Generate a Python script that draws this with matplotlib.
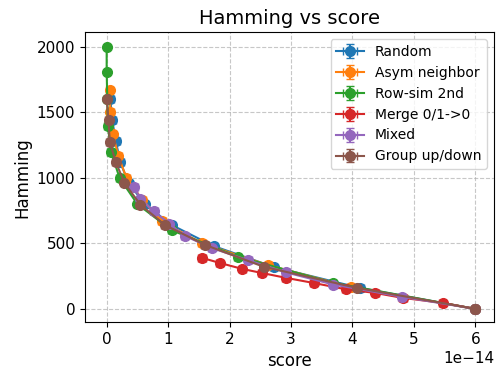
import matplotlib.pyplot as plt
import numpy as np

# Hamming distance vs score for the different perturbation schemes
labels = ['Random', 'Asym neighbor', 'Row-sim 2nd', 'Merge 0/1->0', 'Mixed', 'Group up/down']

# score values in units of 1e-14
random_x = [0.06, 0.09, 0.15, 0.22, 0.36, 0.62, 1.06, 1.74, 2.72, 4.12, 6.0]
random_y = [1600, 1440, 1280, 1120, 960, 800, 640, 480, 320, 160, 0]

asym_x = [0.05, 0.06, 0.10, 0.19, 0.32, 0.58, 0.90, 1.55, 2.63, 3.97, 6.0]
asym_y = [1670, 1503, 1336, 1169, 1002, 835, 668, 501, 334, 167, 0]

rowsim_x = [0.0, 0.0, 0.01, 0.02, 0.07, 0.21, 0.50, 1.06, 2.13, 3.68, 6.0]
rowsim_y = [2000, 1810, 1600, 1400, 1200, 1000, 800, 600, 400, 200, 0]

merge_x = [1.55, 1.84, 2.21, 2.52, 2.92, 3.37, 3.89, 4.37, 4.82, 5.47, 6.0]
merge_y = [390, 351, 305, 275, 237, 198, 150, 122, 84, 46, 0]

mixed_x = [0.45, 0.55, 0.77, 1.02, 1.27, 1.71, 2.30, 2.92, 3.69, 4.80, 6.0]
mixed_y = [930, 840, 744, 651, 558, 465, 372, 279, 186, 93, 0]

group_x = [0.0, 0.03, 0.05, 0.15, 0.29, 0.55, 0.95, 1.60, 2.56, 4.08, 6.0]
group_y = [1600, 1440, 1275, 1120, 960, 795, 640, 489, 321, 160, 0]

# typical spread of the repeated runs (none at the exact end points)
score_err = 0.06
hamming_err = 12

series = [(random_x, random_y), (asym_x, asym_y), (rowsim_x, rowsim_y),
          (merge_x, merge_y), (mixed_x, mixed_y), (group_x, group_y)]

plt.figure(figsize=(5.03, 3.83), dpi=100)
for (xs, ys), lab in zip(series, labels):
    xs = np.array(xs)
    ys = np.array(ys)
    ends = (xs == 0) | (xs == 6.0)
    xe = np.where(ends, 0, score_err) * 1e-14
    ye = np.where(ys == 0, 0, hamming_err)
    plt.errorbar(xs * 1e-14, ys, xerr=xe, yerr=ye, fmt='o-', markersize=7,
                 capsize=3, label=lab)

plt.title('Hamming vs score', fontsize=14)
plt.xlabel('score', fontsize=12)
plt.ylabel('Hamming', fontsize=12)
plt.xticks(fontsize=11)
plt.yticks([0, 500, 1000, 1500, 2000], fontsize=11)
ax = plt.gca()
ax.xaxis.get_offset_text().set_fontsize(11)
plt.grid(True, linestyle='--', alpha=0.7)
plt.legend(fontsize=10, loc='upper right')
plt.subplots_adjust(left=0.169, right=0.982, bottom=0.159, top=0.916)
plt.savefig('out.png', dpi=100)
